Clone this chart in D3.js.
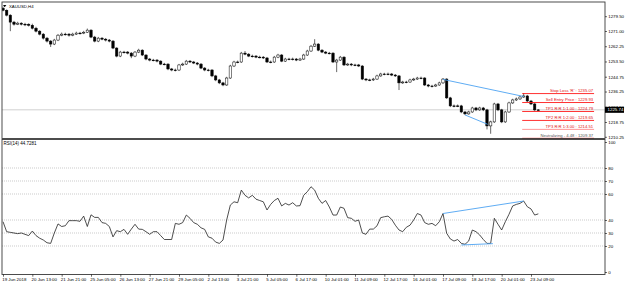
<!DOCTYPE html>
<html>
<head>
<meta charset="utf-8">
<script src="https://cdn.jsdelivr.net/npm/d3@7"></script>
<style>
  html, body { margin: 0; padding: 0; background: #fff; }
  svg { display: block; font-family: 'Liberation Sans', Arial, sans-serif; }
  .axis text { font-size: 4.4px; fill: #000; }
  .axis line { stroke: #000; stroke-width: 0.6; }
  .axis path { display: none; }
</style>
</head>
<body>
<svg id="chart" width="625" height="285"></svg>
<script>
// XAUUSD H4 candles, one label every 8 bars
const timeLabels = ['19 Jun 2018', '20 Jun 13:00', '21 Jun 21:00', '25 Jun 05:00', '26 Jun 13:00',
  '27 Jun 21:00', '29 Jun 05:00', '2 Jul 13:00', '3 Jul 21:00', '5 Jul 05:00', '6 Jul 17:00',
  '10 Jul 01:00', '11 Jul 09:00', '12 Jul 17:00', '16 Jul 01:00', '17 Jul 09:00', '18 Jul 17:00',
  '20 Jul 01:00', '23 Jul 09:00'];
const labelStep = 8;

const priceTicks = [1279.50, 1271.00, 1262.25, 1253.50, 1244.75, 1236.25, 1227.50, 1218.75, 1210.25];
const rsiTicks = [0, 20, 30, 40, 60, 70, 80, 100];
const rsiLevels = [20, 30, 40, 60, 70, 80];

const open = [1284.1, 1282.9, 1280.1, 1276.1, 1274.9, 1275.5, 1274.9, 1274.9, 1274.3, 1272.6,
  1270.9, 1269.2, 1266.9, 1265.2, 1263.5, 1265.8, 1268.6, 1269.2, 1269.2, 1268.6,
  1269.2, 1269.8, 1269.8, 1270.3, 1271.5, 1267.5, 1265.2, 1266.9, 1266.3, 1265.8,
  1265.2, 1261.2, 1256.6, 1258.9, 1258.9, 1258.3, 1256.6, 1258.9, 1260.0, 1257.2,
  1254.9, 1254.3, 1254.3, 1253.7, 1252.0, 1252.0, 1249.2, 1248.6, 1248.6, 1251.5,
  1252.0, 1253.7, 1253.2, 1252.6, 1252.0, 1249.7, 1248.6, 1248.6, 1245.2, 1242.9,
  1241.2, 1240.0, 1244.0, 1250.9, 1253.2, 1253.2, 1258.3, 1257.7, 1256.6, 1256.6,
  1256.0, 1256.0, 1255.5, 1253.2, 1253.2, 1256.0, 1257.2, 1253.7, 1254.9, 1254.9,
  1254.9, 1254.3, 1254.9, 1257.2, 1259.5, 1262.3, 1263.5, 1260.0, 1258.9, 1258.3,
  1258.3, 1253.2, 1254.3, 1256.0, 1251.5, 1252.0, 1251.5, 1251.5, 1250.9, 1243.4,
  1242.9, 1242.9, 1243.4, 1245.2, 1246.3, 1246.3, 1246.3, 1245.7, 1245.2, 1241.2,
  1241.7, 1241.7, 1242.9, 1243.4, 1244.0, 1244.0, 1240.0, 1239.4, 1239.4, 1240.0,
  1241.2, 1243.4, 1232.6, 1228.0, 1228.0, 1228.0, 1224.5, 1223.4, 1224.5, 1226.8,
  1225.7, 1226.8, 1225.7, 1216.5, 1218.8, 1229.1, 1225.7, 1218.8, 1224.5, 1229.7,
  1231.4, 1232.0, 1233.1, 1233.7, 1230.8, 1229.1, 1225.7];
const high = [1285.0, 1283.4, 1280.6, 1276.8, 1276.3, 1276.0, 1275.7, 1275.4, 1275.2, 1273.4,
  1271.5, 1269.8, 1267.6, 1265.8, 1266.5, 1269.3, 1270.1, 1270.0, 1269.8, 1270.0,
  1270.6, 1270.5, 1271.1, 1272.4, 1272.0, 1268.2, 1267.6, 1267.5, 1267.0, 1266.4,
  1265.8, 1261.7, 1259.6, 1259.6, 1259.5, 1258.9, 1259.5, 1260.8, 1260.5, 1257.7,
  1255.5, 1255.0, 1254.9, 1254.2, 1252.7, 1252.5, 1249.8, 1249.4, 1252.1, 1252.8,
  1254.4, 1254.3, 1253.8, 1253.2, 1252.6, 1250.3, 1249.3, 1249.1, 1245.8, 1243.5,
  1241.8, 1244.7, 1251.6, 1253.9, 1254.0, 1259.0, 1259.5, 1258.3, 1257.4, 1257.2,
  1256.8, 1256.6, 1256.1, 1254.0, 1256.7, 1257.9, 1257.8, 1255.6, 1255.6, 1255.7,
  1255.5, 1255.6, 1257.9, 1260.2, 1263.0, 1266.3, 1264.0, 1260.6, 1259.5, 1259.0,
  1258.8, 1255.0, 1256.7, 1256.5, 1252.7, 1252.6, 1252.2, 1252.1, 1251.4, 1244.0,
  1243.6, 1244.1, 1245.9, 1247.0, 1247.0, 1247.1, 1246.9, 1246.3, 1245.7, 1242.4,
  1242.4, 1243.6, 1244.1, 1244.7, 1244.8, 1244.5, 1240.6, 1240.1, 1240.7, 1241.9,
  1244.0, 1243.9, 1233.2, 1228.8, 1228.8, 1228.6, 1225.1, 1225.2, 1227.5, 1227.4,
  1227.5, 1227.4, 1226.3, 1219.5, 1229.8, 1229.7, 1226.3, 1225.2, 1230.4, 1232.1,
  1232.8, 1233.8, 1235.4, 1234.3, 1231.4, 1229.7, 1226.1];
const low = [1282.3, 1279.4, 1270.9, 1274.1, 1274.4, 1274.2, 1273.8, 1273.6, 1271.9, 1270.2,
  1268.5, 1266.1, 1264.4, 1261.8, 1262.9, 1265.2, 1268.0, 1268.4, 1267.8, 1268.0,
  1268.7, 1269.0, 1269.2, 1269.9, 1266.9, 1264.5, 1264.6, 1265.7, 1265.0, 1264.5,
  1260.6, 1255.9, 1256.0, 1258.1, 1257.6, 1255.4, 1256.0, 1258.3, 1256.6, 1254.2,
  1253.6, 1253.6, 1253.0, 1251.4, 1251.3, 1248.5, 1247.9, 1247.8, 1248.0, 1250.9,
  1251.5, 1252.6, 1252.0, 1251.3, 1249.1, 1247.9, 1247.8, 1244.5, 1242.2, 1240.5,
  1239.3, 1239.5, 1243.5, 1250.3, 1252.5, 1252.7, 1257.1, 1256.0, 1255.8, 1255.4,
  1255.3, 1254.9, 1252.6, 1252.5, 1252.7, 1255.4, 1253.1, 1253.2, 1254.2, 1254.1,
  1253.7, 1253.8, 1254.4, 1256.7, 1259.0, 1261.8, 1259.4, 1258.3, 1257.7, 1257.6,
  1252.6, 1247.4, 1253.8, 1250.9, 1250.9, 1250.8, 1250.8, 1250.3, 1242.8, 1242.2,
  1242.2, 1242.3, 1242.9, 1244.7, 1245.6, 1245.6, 1245.1, 1244.6, 1237.1, 1240.6,
  1241.0, 1241.2, 1242.3, 1242.9, 1243.3, 1239.4, 1238.7, 1238.6, 1238.9, 1239.5,
  1240.6, 1232.0, 1227.3, 1227.2, 1227.3, 1223.8, 1222.7, 1222.9, 1224.0, 1225.0,
  1225.1, 1225.0, 1214.5, 1212.0, 1218.2, 1225.0, 1218.1, 1218.2, 1224.0, 1229.1,
  1230.8, 1231.4, 1232.6, 1230.2, 1228.5, 1225.1, 1225.3];
const close = [1282.9, 1280.1, 1276.1, 1274.9, 1275.5, 1274.9, 1274.9, 1274.3, 1272.6, 1270.9,
  1269.2, 1266.9, 1265.2, 1263.5, 1265.8, 1268.6, 1269.2, 1269.2, 1268.6, 1269.2,
  1269.8, 1269.8, 1270.3, 1271.5, 1267.5, 1265.2, 1266.9, 1266.3, 1265.8, 1265.2,
  1261.2, 1256.6, 1258.9, 1258.9, 1258.3, 1256.6, 1258.9, 1260.0, 1257.2, 1254.9,
  1254.3, 1254.3, 1253.7, 1252.0, 1252.0, 1249.2, 1248.6, 1248.6, 1251.5, 1252.0,
  1253.7, 1253.2, 1252.6, 1252.0, 1249.7, 1248.6, 1248.6, 1245.2, 1242.9, 1241.2,
  1240.0, 1244.0, 1250.9, 1253.2, 1253.2, 1258.3, 1257.7, 1256.6, 1256.6, 1256.0,
  1256.0, 1255.5, 1253.2, 1253.2, 1256.0, 1257.2, 1253.7, 1254.9, 1254.9, 1254.9,
  1254.3, 1254.9, 1257.2, 1259.5, 1262.3, 1263.5, 1260.0, 1258.9, 1258.3, 1258.3,
  1253.2, 1254.3, 1256.0, 1251.5, 1252.0, 1251.5, 1251.5, 1250.9, 1243.4, 1242.9,
  1242.9, 1243.4, 1245.2, 1246.3, 1246.3, 1246.3, 1245.7, 1245.2, 1241.2, 1241.7,
  1241.7, 1242.9, 1243.4, 1244.0, 1244.0, 1240.0, 1239.4, 1239.4, 1240.0, 1241.2,
  1243.4, 1232.6, 1228.0, 1228.0, 1228.0, 1224.5, 1223.4, 1224.5, 1226.8, 1225.7,
  1226.8, 1225.7, 1216.5, 1218.8, 1229.1, 1225.7, 1218.8, 1224.5, 1229.7, 1231.4,
  1232.0, 1233.1, 1233.7, 1230.8, 1229.1, 1225.7, 1225.7];

const rsi = [38.7, 31, 30.5, 30, 29.5, 30, 29, 28, 31.5, 28,
  26, 24.6, 22.5, 22, 30, 37, 35, 35.6, 39.5, 39.5,
  39.5, 39, 43, 35, 44, 42, 42, 38, 37.4, 35,
  27, 31.8, 31, 32.8, 29, 33, 36.7, 33, 32.8, 31,
  29, 31, 31, 28, 25, 25, 25, 37.4, 36.7, 38,
  43.8, 41.3, 38, 36.7, 34, 32.8, 27, 26, 23, 22,
  24.6, 40, 51.5, 54, 53.3, 63, 59, 57, 59, 56,
  55, 54, 47.7, 52, 55, 56.7, 50.8, 52.8, 51.5, 53.3,
  50.8, 51, 59, 61.8, 65.6, 63, 56.7, 52.8, 55, 50,
  43.8, 43.8, 50, 49, 41.8, 41.3, 39, 40, 30, 29,
  33, 33, 35.5, 41.8, 42.5, 43, 40.5, 36, 32.3, 31,
  34.4, 36, 40, 45, 43.8, 38, 36.7, 37.4, 35.6, 38.7,
  45, 29.8, 25.4, 23.8, 25, 22, 21.3, 23.8, 32.3, 31,
  28.5, 25, 22, 22, 41.3, 36.7, 32.3, 38.7, 44.4, 50.8,
  52, 52.8, 54.6, 50.2, 48.5, 43.8, 44.73];
const rsiLabel = 'RSI(14) 44.7281';

const bidPrice = 1225.74;

// trade levels drawn at the right end
const levelLabels = ["Stop Loss 'R' : 1235.07", 'Sell Entry Price : 1229.93', 'TP1 R:R 1:1.00 : 1224.79',
  'TP2 R:R 1:2.00 : 1219.65', 'TP3 R:R 1:3.00 : 1214.51', 'Neutralizing - 4.48 : 1209.37'];
const levelPrices = [1235.07, 1229.93, 1224.79, 1219.65, 1214.51, 1209.37];
const levelColors = ['#ff1a1a', '#ff1a1a', '#ff1a1a', '#ff1a1a', '#ff8c8c', '#ff1a1a'];
const levelTextColors = ['#e01010', '#e01010', '#e01010', '#e01010', '#e01010', '#555'];
const levelFrom = 141.6, levelTo = 161.2;

// divergence lines [bar, value]
const priceTrendHigh = [[120, 1243.2], [142, 1233.4]];
const priceTrendLow = [[126, 1222.8], [132.2, 1217.4]];
const rsiTrendHigh = [[120, 45], [142, 54.6]];
const rsiTrendLow = [[125, 20.8], [133.6, 21.8]];

const svg = d3.select('#chart');

const panelLeft = 2, panelRight = 605;
const mainTop = 2, mainBottom = 138.5;
const rsiTop = 139.5, rsiBottom = 274.5;

const x = d3.scaleLinear().domain([0, (timeLabels.length - 1) * labelStep]).range([3, 531]);
const yPrice = d3.scaleLinear().domain([1210.25, 1279.5]).range([136.8, 16.2]);
const yRsi = d3.scaleLinear().domain([0, 100]).range([272, 142]);

const defs = svg.append('defs');
defs.append('clipPath').attr('id', 'clipMain').append('rect')
  .attr('x', panelLeft).attr('y', mainTop)
  .attr('width', panelRight - panelLeft).attr('height', mainBottom - mainTop + 0.5);
defs.append('clipPath').attr('id', 'clipRsi').append('rect')
  .attr('x', panelLeft).attr('y', rsiTop)
  .attr('width', panelRight - panelLeft).attr('height', rsiBottom - rsiTop);

// bid line
svg.append('line')
  .attr('x1', panelLeft).attr('x2', panelRight)
  .attr('y1', yPrice(bidPrice)).attr('y2', yPrice(bidPrice))
  .attr('stroke', '#c4c4c4').attr('stroke-width', 0.8);

// rsi level grid
svg.append('g').selectAll('line')
  .data(rsiLevels)
  .enter().append('line')
  .attr('x1', panelLeft).attr('x2', panelRight)
  .attr('y1', d => yRsi(d)).attr('y2', d => yRsi(d))
  .attr('stroke', '#a8a8a8').attr('stroke-width', 0.6)
  .attr('stroke-dasharray', '1,1');

// candles
const bars = d3.range(close.length).map(i => ({ i: i, o: open[i], h: high[i], l: low[i], c: close[i] }));
const bodyW = 2.4;

const candles = svg.append('g').attr('clip-path', 'url(#clipMain)');

candles.selectAll('.wick')
  .data(bars)
  .enter().append('line')
  .attr('class', 'wick')
  .attr('x1', d => x(d.i)).attr('x2', d => x(d.i))
  .attr('y1', d => yPrice(d.h)).attr('y2', d => yPrice(d.l))
  .attr('stroke', '#000').attr('stroke-width', 0.6);

candles.selectAll('.body')
  .data(bars)
  .enter().append('rect')
  .attr('class', 'body')
  .attr('x', d => x(d.i) - bodyW / 2)
  .attr('y', d => yPrice(Math.max(d.o, d.c)))
  .attr('width', bodyW)
  .attr('height', d => Math.max(0.7, Math.abs(yPrice(d.o) - yPrice(d.c))))
  .attr('fill', d => d.c > d.o ? '#fff' : '#000')
  .attr('stroke', '#000')
  .attr('stroke-width', 0.5);

// trend lines
const trendLine = (g, pts, yScale) => g.append('line')
  .attr('x1', x(pts[0][0])).attr('y1', yScale(pts[0][1]))
  .attr('x2', x(pts[1][0])).attr('y2', yScale(pts[1][1]))
  .attr('stroke', '#4da3f2').attr('stroke-width', 0.9);

trendLine(candles, priceTrendHigh, yPrice);
trendLine(candles, priceTrendLow, yPrice);

// trade levels
const levels = svg.append('g').attr('clip-path', 'url(#clipMain)');
levels.selectAll('line')
  .data(levelPrices)
  .enter().append('line')
  .attr('x1', x(levelFrom)).attr('x2', x(levelTo))
  .attr('y1', d => yPrice(d)).attr('y2', d => yPrice(d))
  .attr('stroke', (d, i) => levelColors[i]).attr('stroke-width', 0.9);

svg.append('g').selectAll('text')
  .data(levelLabels)
  .enter().append('text')
  .attr('x', x(levelTo) - 1)
  .attr('y', (d, i) => yPrice(levelPrices[i]) - 1.6)
  .attr('text-anchor', 'end')
  .attr('font-size', 4.2)
  .attr('fill', (d, i) => levelTextColors[i])
  .text(d => d);

// rsi line
const rsiG = svg.append('g').attr('clip-path', 'url(#clipRsi)');
rsiG.append('path')
  .datum(rsi)
  .attr('fill', 'none')
  .attr('stroke', '#222')
  .attr('stroke-width', 0.8)
  .attr('d', d3.line().x((d, i) => x(i)).y(d => yRsi(d)));

trendLine(rsiG, rsiTrendHigh, yRsi);
trendLine(rsiG, rsiTrendLow, yRsi);

// panel frames
[[mainTop, mainBottom], [rsiTop, rsiBottom]].forEach(p => {
  svg.append('rect')
    .attr('x', panelLeft).attr('y', p[0])
    .attr('width', panelRight - panelLeft).attr('height', p[1] - p[0])
    .attr('fill', 'none').attr('stroke', '#3a3a3a').attr('stroke-width', 0.9);
});

// axes
svg.append('g')
  .attr('class', 'axis')
  .attr('transform', 'translate(' + panelRight + ',0)')
  .call(d3.axisRight(yPrice).tickValues(priceTicks).tickSize(2).tickPadding(1.2)
    .tickFormat(d3.format('.2f')));

svg.append('g')
  .attr('class', 'axis')
  .attr('transform', 'translate(' + panelRight + ',0)')
  .call(d3.axisRight(yRsi).tickValues(rsiTicks).tickSize(2).tickPadding(1.2)
    .tickFormat(d3.format('d')));

const xAxis = svg.append('g')
  .attr('class', 'axis')
  .attr('transform', 'translate(0,' + rsiBottom + ')')
  .call(d3.axisBottom(x).tickValues(timeLabels.map((d, i) => i * labelStep)).tickSize(2.2).tickPadding(1.4)
    .tickFormat((d, i) => timeLabels[i]));
xAxis.selectAll('text').attr('text-anchor', 'start').attr('x', -1.3);

// current price box
const bidY = yPrice(bidPrice);
svg.append('rect')
  .attr('x', panelRight).attr('y', bidY - 3)
  .attr('width', 19).attr('height', 6)
  .attr('fill', '#000');
svg.append('text')
  .attr('x', panelRight + 2.5).attr('y', bidY + 1.6)
  .attr('font-size', 4.4).attr('fill', '#fff')
  .text(d3.format('.2f')(bidPrice));

// window titles
svg.append('path')
  .attr('d', 'M3,5 L6.4,5 L4.7,7.2 Z')
  .attr('fill', '#000');
svg.append('text')
  .attr('x', 9).attr('y', 7.6)
  .attr('font-size', 4.3).attr('fill', '#000')
  .text('XAUUSD,H4');
svg.append('text')
  .attr('x', 3.5).attr('y', 145)
  .attr('font-size', 4.5).attr('fill', '#000')
  .text(rsiLabel);
</script>
</body>
</html>
